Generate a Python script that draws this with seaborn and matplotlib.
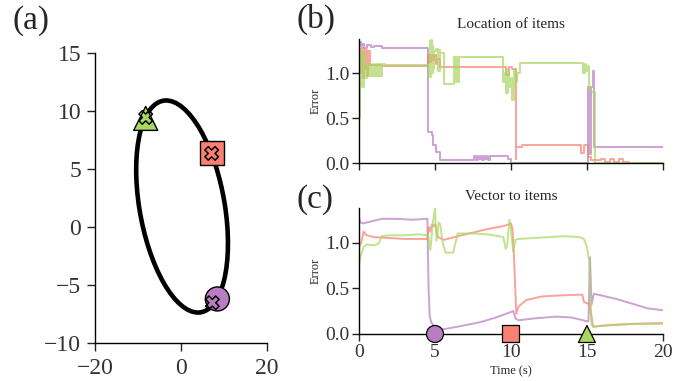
import matplotlib
matplotlib.use("Agg")
import matplotlib.pyplot as plt
from matplotlib.patches import Ellipse
import seaborn as sns

# items: purple circle, salmon square, green triangle
item_names = ["circle", "square", "triangle"]
item_colors = ["#b87ec1", "#fa8072", "#a9d762"]
item_markers = ["o", "s", "^"]

# (a) true item locations and estimated locations
item_x = [8.45, 7.13, -8.2]
item_y = [-6.2, 6.35, 9.37]
est_x = [7.28, 7.13, -8.2]
est_y = [-6.53, 6.35, 9.45]

# (a) trajectory ellipse (data units)
ellipse_center = (0.25, 1.77)
ellipse_width = 23.3
ellipse_height = 15.7
ellipse_angle = 147

# times at which items are met
item_times = [5, 10, 15]

# (b) location of items - error (step traces)
b_purple_t = [0, 0.1, 0.2, 0.3, 0.5, 0.8, 1.0, 1.5, 4.54, 4.78, 4.9, 5.1, 5.3,
              7.6, 7.7, 7.8, 7.9, 8.0, 8.1, 8.2, 8.3, 8.4, 8.5, 8.6, 9.8, 10.0,
              15.1, 15.2, 15.3, 15.4, 15.48, 20]
b_purple_v = [1.35, 1.3, 1.33, 1.28, 1.31, 1.29, 1.3, 1.28, 0.35, 0.31, 0.2, 0.12, 0.03,
              0.08, 0.03, 0.08, 0.04, 0.08, 0.03, 0.08, 0.04, 0.08, 0.03, 0.08, 0.05, 0.005,
              0.85, 0.1, 0.85, 1.03, 0.18, 0.18]

b_salmon_t = [0, 0.1, 0.15, 0.25, 0.3, 0.35, 0.45, 0.5, 0.6, 0.72, 1.5, 4.56, 4.65,
              4.75, 4.85, 4.95, 5.05, 5.15, 5.3, 5.55, 9.7, 9.9, 10.1, 10.3, 10.36,
              10.7, 14.6, 14.8, 15.1, 15.3, 15.9, 16.2, 16.5, 16.8, 17.1, 17.4, 17.8, 20]
b_salmon_v = [1.27, 1.0, 1.28, 0.95, 1.27, 1.05, 1.26, 0.97, 1.25, 1.09, 1.08, 1.2, 1.12,
              1.2, 1.15, 1.2, 1.1, 1.16, 1.07, 1.07, 0.98, 1.07, 1.05, 0.05, 0.18,
              0.2, 0.11, 0.2, 0.07, 0.03, 0.045, 0.01, 0.045, 0.01, 0.045, 0.01, 0.0, 0.0]

b_green_t = [0, 0.05, 0.1, 0.15, 0.2, 0.25, 0.3, 0.35, 0.4, 0.5, 0.6, 0.7, 0.8, 0.9,
             1.0, 1.1, 1.2, 1.3, 1.4, 1.5, 1.7, 4.6, 4.65, 4.7, 4.75, 4.8, 4.85, 4.9,
             4.95, 5.05, 5.2, 5.3, 5.35, 5.6, 6.25, 6.3, 6.35, 6.4, 6.45, 6.5, 6.55, 6.6,
             9.5, 9.6, 9.7, 9.8, 9.9, 10.0, 10.1, 10.2, 10.3, 10.4, 10.6, 14.75, 14.85,
             14.95, 15.05, 15.15, 15.25, 15.5, 20]
b_green_v = [0.5, 0.85, 1.2, 0.9, 1.25, 0.85, 1.1, 1.22, 0.95, 1.1, 0.97, 1.1, 0.97, 1.1,
             0.97, 1.1, 0.97, 1.1, 0.97, 1.1, 1.09, 0.96, 1.36, 0.96, 1.37, 1.0, 1.3, 1.05,
             1.25, 1.27, 1.02, 1.26, 1.22, 0.885, 1.18, 0.9, 1.18, 0.9, 1.18, 0.9, 1.18, 1.175,
             0.9, 1.0, 0.78, 1.05, 0.85, 0.95, 0.7, 1.05, 0.9, 1.0, 1.11, 1.0, 1.1,
             1.02, 1.08, 0.85, 0.79, 0.0, 0.0]

# (c) vector to items - error
c_purple_t = [0, 0.1, 0.3, 0.5, 1.0, 1.5, 2.5, 3.5, 4.5, 4.58, 4.65, 4.75, 5.0, 5.5,
              6.5, 8.0, 9.0, 10.15, 10.3, 10.5, 11.5, 13.0, 14.0, 15.0, 15.1, 15.2,
              15.3, 15.45, 16.0, 17.0, 18.0, 19.0, 20.0]
c_purple_v = [1.27, 1.22, 1.21, 1.22, 1.24, 1.26, 1.26, 1.25, 1.26, 0.5, 0.2, 0.13, 0.07, 0.05,
              0.08, 0.13, 0.18, 0.25, 0.17, 0.15, 0.17, 0.19, 0.18, 0.14, 0.14, 0.84,
              0.32, 0.44, 0.42, 0.38, 0.33, 0.28, 0.26]

c_salmon_t = [0, 0.15, 0.3, 0.5, 1.0, 2.0, 3.0, 4.0, 4.5, 4.6, 4.7, 4.8, 4.9, 5.0, 5.2,
              5.6, 6.5, 7.5, 8.5, 9.5, 10.0, 10.1, 10.2, 10.35, 10.5, 11.0, 12.0, 13.0,
              14.5, 14.7, 14.8, 15.1, 15.2, 15.4, 16.0, 17.0, 18.0, 20.0]
c_salmon_v = [0.95, 1.0, 1.12, 1.08, 1.06, 1.05, 1.04, 1.04, 1.04, 1.17, 1.12, 1.2, 1.18, 1.2, 1.06,
              1.03, 1.07, 1.11, 1.15, 1.18, 1.21, 1.15, 0.85, 0.22, 0.3, 0.37, 0.41, 0.42,
              0.43, 0.43, 0.35, 0.33, 0.3, 0.08, 0.09, 0.1, 0.11, 0.12]

c_green_t = [0, 0.1, 0.3, 0.5, 1.0, 1.3, 1.5, 2.0, 3.0, 4.0, 4.55, 4.7, 4.85, 5.0, 5.1,
             5.25, 5.35, 5.5, 5.7, 6.2, 6.35, 6.5, 7.5, 8.5, 9.5, 9.65, 9.75, 9.9, 10.0,
             10.15, 10.3, 10.5, 11.5, 12.5, 13.5, 14.5, 14.8, 15.0, 15.15, 15.3, 15.45,
             16.5, 18.0, 20.0]
c_green_v = [0.75, 0.85, 0.95, 0.98, 0.97, 0.99, 1.07, 1.08, 1.08, 1.09, 1.08, 0.92, 1.2, 1.38, 1.02,
             1.22, 1.2, 1.0, 0.89, 0.89, 1.0, 1.1, 1.1, 1.09, 1.06, 0.93, 0.97, 1.25, 1.15,
             0.9, 1.03, 1.04, 1.05, 1.06, 1.07, 1.06, 1.04, 0.95, 0.8, 0.1, 0.08,
             0.1, 0.11, 0.11]

sns.set_style("ticks")
plt.rcParams["font.family"] = ["Liberation Serif", "DejaVu Serif"]
plt.rcParams["xtick.direction"] = "out"
plt.rcParams["ytick.direction"] = "out"

fig = plt.figure(figsize=(6.83, 3.81), dpi=100)
ax_a = fig.add_axes([0.139, 0.0997, 0.252, 0.761])
ax_b = fig.add_axes([0.5256, 0.572, 0.445, 0.3255])
ax_c = fig.add_axes([0.5256, 0.1234, 0.445, 0.331])

# ---- (a)
ax_a.add_patch(Ellipse(ellipse_center, ellipse_width, ellipse_height, angle=ellipse_angle,
                       fill=False, lw=3.3, ec="black", zorder=2))
sns.scatterplot(x=item_x, y=item_y, hue=item_names, style=item_names,
                palette=dict(zip(item_names, item_colors)),
                markers=dict(zip(item_names, item_markers)),
                s=300, edgecolor="black", linewidth=1, legend=False, zorder=3, ax=ax_a)
sns.scatterplot(x=est_x, y=est_y, marker="X", facecolors="none", edgecolors="black",
                s=95, linewidth=1.1, legend=False, zorder=4, ax=ax_a)
ax_a.set_xlim(-20, 20)
ax_a.set_ylim(-10, 15)
ax_a.set_xticks([-20, 0, 20])
ax_a.set_yticks([-10, -5, 0, 5, 10, 15])
sns.despine(ax=ax_a)

# ---- (b) and (c)
b_series = [(b_purple_t, b_purple_v), (b_salmon_t, b_salmon_v), (b_green_t, b_green_v)]
c_series = [(c_purple_t, c_purple_v), (c_salmon_t, c_salmon_v), (c_green_t, c_green_v)]

for (t, v), col in zip(b_series, item_colors):
    sns.lineplot(x=t, y=v, color=col, lw=1.4, alpha=0.72, estimator=None, sort=False,
                 drawstyle="steps-post", ax=ax_b)
for (t, v), col in zip(c_series, item_colors):
    sns.lineplot(x=t, y=v, color=col, lw=1.4, alpha=0.72, estimator=None, sort=False, ax=ax_c)

sns.scatterplot(x=item_times, y=[0, 0, 0], hue=item_names, style=item_names,
                palette=dict(zip(item_names, item_colors)),
                markers=dict(zip(item_names, item_markers)),
                s=150, edgecolor="black", linewidth=0.9, legend=False, zorder=5,
                clip_on=False, ax=ax_c)

for ax, title, pad in [(ax_b, "Location of items", 8), (ax_c, "Vector to items", 5.5)]:
    ax.set_xlim(0, 20)
    ax.set_ylim(0, 1.38)
    ax.set_xticks([0, 5, 10, 15, 20])
    ax.set_yticks([0, 0.5, 1.0])
    ax.set_yticklabels(["0.0", "0.5", "1.0"])
    ax.set_title(title, fontsize=11, pad=pad)
    ax.set_ylabel("Error", fontsize=9, labelpad=2)
    sns.despine(ax=ax)
    ax.tick_params(labelsize=14, length=5, width=1, pad=2)
ax_b.set_xticklabels([])
ax_c.set_xlabel("Time (s)", fontsize=9, labelpad=3)

ax_a.tick_params(labelsize=17, length=6, width=1)
ax_a.tick_params(axis="y", pad=4)
ax_a.tick_params(axis="x", pad=5)

for ax in [ax_a, ax_b, ax_c]:
    ax.tick_params(colors="#222222", labelcolor="#333333")
    for s in ["left", "bottom"]:
        ax.spines[s].set_linewidth(1)
        ax.spines[s].set_color("black")

fig.text(0.018, 0.924, "(a)", fontsize=24)
fig.text(0.434, 0.927, "(b)", fontsize=24)
fig.text(0.434, 0.454, "(c)", fontsize=24)

fig.savefig("out.png", dpi=100)
